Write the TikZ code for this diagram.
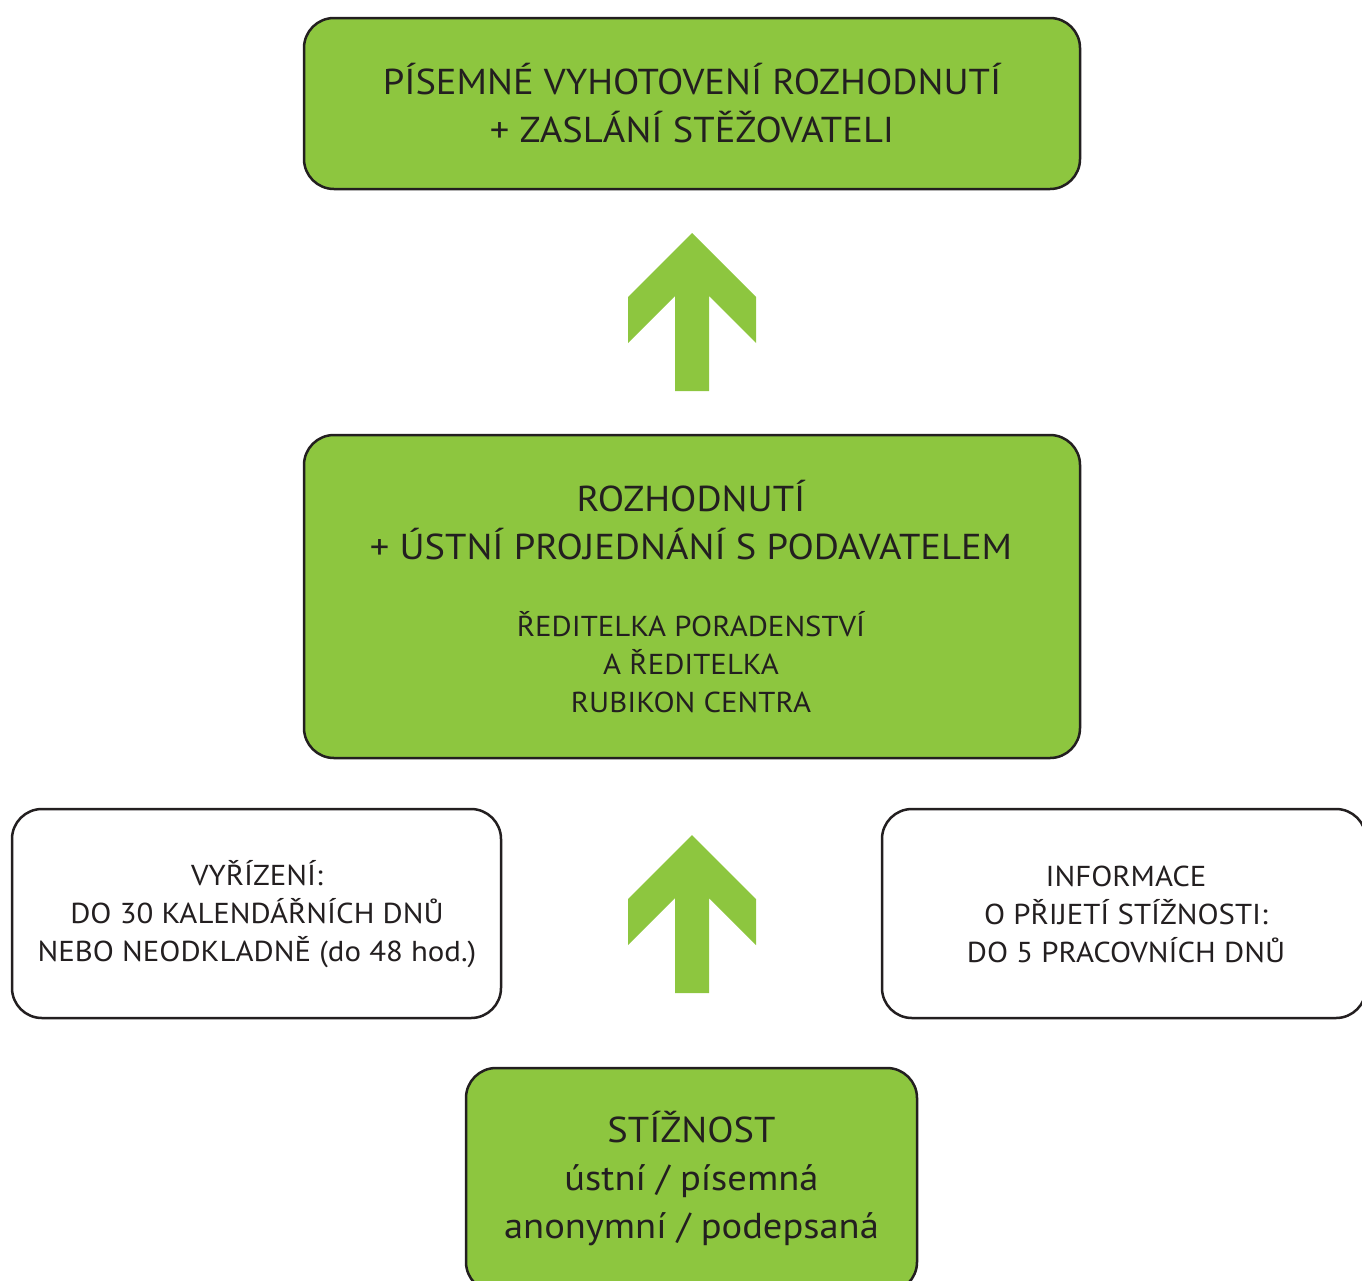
\documentclass[tikz,border=0pt]{standalone}
\usepackage{fontspec}
\setmainfont[FakeStretch=1.07]{PT Sans}
\definecolor{grn}{HTML}{8DC63F}
\definecolor{ink}{HTML}{231F20}
\begin{document}
\begin{tikzpicture}[x=1pt,y=-1pt,
  box/.style={draw=ink, line width=2.5pt, rounded corners=30pt, align=center, inner sep=0pt, text=ink},
  gbox/.style={box, fill=grn},
  wbox/.style={box, fill=white},
  bigtxt/.style={font=\fontsize{36}{48}\selectfont, text=ink, align=center, inner sep=0pt},
  smalltxt/.style={font=\fontsize{28.8}{38}\selectfont, text=ink, align=center, inner sep=0pt},
  uparrow/.style={fill=grn}]
\useasboundingbox (0,0) rectangle (1362,1280);
% boxes
\node[gbox, minimum width=776pt, minimum height=171pt] (top) at (692,103.5) {};
\node[bigtxt] (toptxt) at (top.center) {PÍSEMNÉ VYHOTOVENÍ ROZHODNUTÍ\\+ ZASLÁNÍ STĚŽOVATELI};
\node[gbox, minimum width=776pt, minimum height=323pt] (mid) at (692,596.5) {};
\node[bigtxt] (midtxt) at (691,520) {ROZHODNUTÍ\\+ ÚSTNÍ PROJEDNÁNÍ S PODAVATELEM};
\node[smalltxt] (midsub) at (691,662) {ŘEDITELKA PORADENSTVÍ\\A ŘEDITELKA\\RUBIKON CENTRA};
\node[wbox, minimum width=489pt, minimum height=209pt] (left) at (256.5,913.5) {};
\node[smalltxt] (lefttxt) at (257,914) {VYŘÍZENÍ:\\DO 30 KALENDÁŘNÍCH DNŮ\\NEBO NEODKLADNĚ (do 48 hod.)};
\node[wbox, minimum width=484pt, minimum height=209pt] (right) at (1124,913.5) {};
\node[smalltxt] (righttxt) at (1126,914) {INFORMACE\\O PŘIJETÍ STÍŽNOSTI:\\DO 5 PRACOVNÍCH DNŮ};
\node[gbox, minimum width=451pt, minimum height=224pt] (bot) at (691.5,1180) {};
\node[bigtxt] (bottxt) at (691.5,1179) {STÍŽNOST\\ústní / písemná\\anonymní / podepsaná};
% arrows
\foreach \ty in {233,835}{
  \fill[uparrow, shift={(692,\ty)}] (0,0) -- (64,64) -- (64,110) -- (17,63) -- (17,158) -- (-17,158) -- (-17,63) -- (-64,110) -- (-64,64) -- cycle;
}
\end{tikzpicture}
\end{document}
